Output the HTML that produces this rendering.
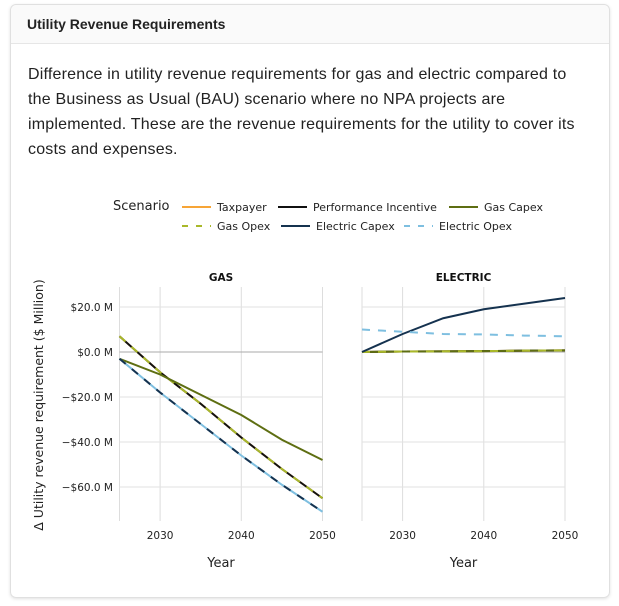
<!DOCTYPE html>
<html><head><meta charset="utf-8"><style>
body{margin:0;background:#fff;font-family:"Liberation Sans","DejaVu Sans",sans-serif;}
.card{position:absolute;left:10px;top:4px;width:598px;height:592px;border:1px solid #e0e0e0;border-radius:6px;box-shadow:0 1px 3px rgba(0,0,0,.12);}
.hdr{height:38px;border-bottom:1px solid #e6e6e6;background:#fafafa;border-radius:6px 6px 0 0;font-weight:bold;font-size:14px;color:#222;line-height:38px;padding-left:16px;}
.desc{position:absolute;left:17px;top:57px;width:580px;font-size:16px;line-height:25px;color:#222;white-space:nowrap;letter-spacing:0.2px;}
svg{position:absolute;left:0;top:0}
</style></head><body>
<div class="card">
<div class="hdr">Utility Revenue Requirements</div>
<div class="desc">Difference in utility revenue requirements for gas and electric compared to<br>the Business as Usual (BAU) scenario where no NPA projects are<br>implemented. These are the revenue requirements for the utility to cover its<br>costs and expenses.</div>
</div>
<svg id="chart" width="619" height="606" font-family="DejaVu Sans, Liberation Sans, sans-serif"></svg>
<script>
const years=[2025,2030,2035,2040,2045,2050];
const yTicks=[20,0,-20,-40,-60];
const yTickLabels=["$20.0 M","$0.0 M","−$20.0 M","−$40.0 M","−$60.0 M"];
const xTicks=[2030,2040,2050];
const gasTaxpayer=[7,-9,-23,-38,-52,-65];
const gasPerf=[7,-9,-23,-38,-52,-65];
const gasCapex=[-3,-10,-19,-28,-39,-48];
const gasOpex=[7,-9,-23,-38,-52,-65];
const gasElecCapex=[-3,-18,-32,-46,-59,-71];
const gasElecOpex=[-3,-18,-32,-46,-59,-71];
const elTaxpayer=[0,0.2,0.3,0.4,0.6,0.7];
const elPerf=[0,0.2,0.3,0.4,0.6,0.7];
const elCapex=[0,8,15,19,21.5,24];
const elOpex=[10,9,8,7.8,7.3,7];
const elGasCapex=[0,0.2,0.3,0.4,0.6,0.7];
const elGasOpex=[0,0.2,0.3,0.4,0.6,0.7];
const C={tax:"#f7a536",perf:"#111",gcap:"#5e6e12",gop:"#a9b82a",ecap:"#15324f",eop:"#7ebfe0"};
const svg=document.getElementById('chart');const NS="http://www.w3.org/2000/svg";
function mk(t,a,p){const e=document.createElementNS(NS,t);for(const k in a)e.setAttribute(k,a[k]);(p||svg).appendChild(e);return e;}
const y=v=>352-v*2.25;
const panels=[{x0:119.5,title:"GAS",series:[[gasTaxpayer,C.tax,""],[gasPerf,C.perf,""],[gasOpex,C.gop,"8,8"],[gasCapex,C.gcap,""],[gasElecOpex,C.eop,""],[gasElecCapex,C.ecap,"8,8"]]},
{x0:362,title:"ELECTRIC",series:[[elTaxpayer,C.tax,""],[elPerf,C.perf,""],[elGasCapex,C.gcap,""],[elGasOpex,C.gop,"8,8"],[elCapex,C.ecap,""],[elOpex,C.eop,"8,8"]]}];
panels.forEach((p,pi)=>{
 const x=v=>p.x0+(v-2025)*8.12;
 const g=mk('g',{});
 
 
 mk('text',{x:x(2037.5),y:281,'text-anchor':'middle','font-size':10.5,'font-weight':'bold',fill:'#111'},g).textContent=p.title;
 mk('line',{x1:p.x0,x2:p.x0,y1:287,y2:521,stroke:'#ddd'},g);
 xTicks.forEach(t=>{mk('line',{x1:x(t),x2:x(t),y1:287,y2:521,stroke:'#ddd'},g);
  const tx=mk('text',{x:x(t),y:539,'text-anchor':'middle','font-size':10.5,fill:'#222'},g);tx.textContent=t;
  });
 yTicks.forEach((t,i)=>{mk('line',{x1:p.x0,x2:x(2050),y1:y(t),y2:y(t),stroke:t===0?'#aaa':'#e2e2e2'},g);
  if(pi===0){const tx=mk('text',{x:113,y:y(t)+4,'text-anchor':'end','font-size':10.5,fill:'#222'},g);tx.textContent=yTickLabels[i];
  }});
 const xt=mk('text',{x:x(2037.5),y:567,'text-anchor':'middle','font-size':13,fill:'#222'},g);xt.textContent='Year';
 
 p.series.forEach(s=>{const d=s[0].map((v,i)=>(i?'L':'M')+x(years[i])+','+y(v)).join('');
  const l=mk('path',{d:d,fill:'none',stroke:s[1],'stroke-width':2,'stroke-dasharray':s[2]},g);
  });
});
const yt=mk('text',{transform:'translate(43,405) rotate(-90)','text-anchor':'middle','font-size':12.5,fill:'#222'});yt.textContent='Δ Utility revenue requirement ($ Million)';

const lt=mk('text',{x:113,y:210,'font-size':13,fill:'#222'});lt.textContent='Scenario';

const leg=[["Taxpayer",C.tax,"",182,207],["Performance Incentive",C.perf,"",278,207],["Gas Capex",C.gcap,"",449,207],["Gas Opex",C.gop,"6,8",182,226],["Electric Capex",C.ecap,"",281,226],["Electric Opex",C.eop,"6,8",404,226]];
leg.forEach(e=>{const g=mk('g',{});
 mk('line',{x1:e[3],x2:e[3]+29,y1:e[4],y2:e[4],stroke:e[1],'stroke-width':2,'stroke-dasharray':e[2]},g);
 mk('text',{x:e[3]+35,y:e[4]+4,'font-size':11,fill:'#222'},g).textContent=e[0];});
</script>
</body></html>
